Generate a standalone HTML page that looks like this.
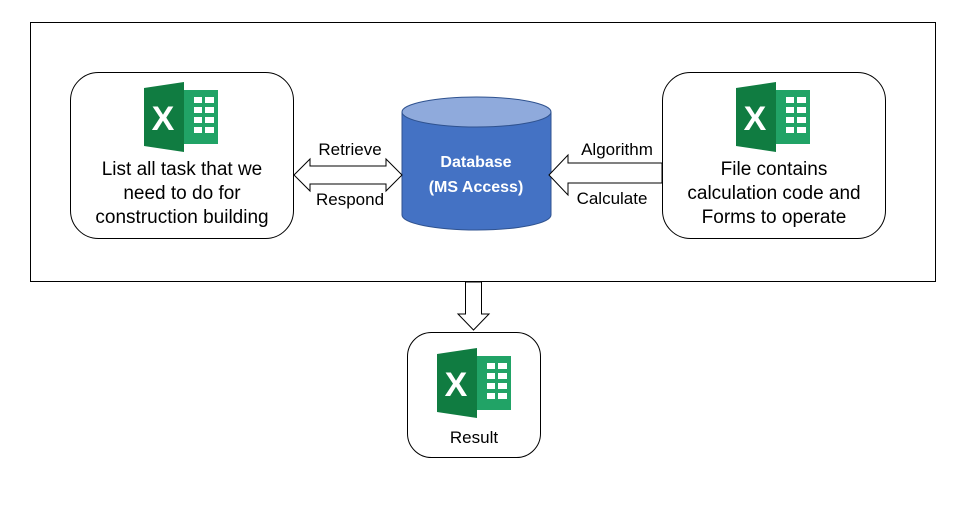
<!DOCTYPE html>
<html><head><style>body{margin:0;background:#fff}svg{display:block}text{font-family:"Liberation Sans",sans-serif}</style></head><body>
<svg width="976" height="522" viewBox="0 0 976 522" xmlns="http://www.w3.org/2000/svg">
<defs>
<g id="xl">
<rect x="34" y="8" width="40" height="54" fill="#21a366"/>
<g fill="#fff">
<rect x="50" y="15" width="8" height="6"/><rect x="61" y="15" width="9" height="6"/>
<rect x="50" y="25" width="8" height="6"/><rect x="61" y="25" width="9" height="6"/>
<rect x="50" y="35" width="8" height="6"/><rect x="61" y="35" width="9" height="6"/>
<rect x="50" y="45" width="8" height="6"/><rect x="61" y="45" width="9" height="6"/>
</g>
<polygon points="0,6 40,0 40,70 0,64" fill="#107c41"/>
<text x="19" y="48" font-size="34" font-weight="bold" fill="#fff" text-anchor="middle">X</text>
</g>
</defs>
<rect x="30.5" y="22.5" width="905" height="259" fill="none" stroke="#000"/>
<rect x="70.5" y="72.5" width="223" height="166" rx="28" fill="#fff" stroke="#000"/>
<rect x="662.5" y="72.5" width="223" height="166" rx="28" fill="#fff" stroke="#000"/>
<rect x="407.5" y="332.5" width="133" height="125" rx="24" fill="#fff" stroke="#000"/>
<use href="#xl" x="144" y="82"/>
<use href="#xl" x="736" y="82"/>
<use href="#xl" x="437" y="348"/>
<g font-size="19" fill="#000" text-anchor="middle">
<text x="182" y="175">List all task that we</text>
<text x="182" y="199">need to do for</text>
<text x="182" y="223">construction building</text>
<text x="774" y="175">File contains</text>
<text x="774" y="199">calculation code and</text>
<text x="774" y="223">Forms to operate</text>
</g>
<g font-size="17" fill="#000" text-anchor="middle">
<text x="474" y="443">Result</text>
<text x="350" y="155">Retrieve</text>
<text x="350" y="205">Respond</text>
<text x="617" y="155">Algorithm</text>
<text x="612" y="204">Calculate</text>
</g>
<path d="M402,112 V215 A74.5,15 0 0 0 551,215 V112" fill="#4472c4" stroke="#2f528f"/>
<ellipse cx="476.5" cy="112" rx="74.5" ry="15" fill="#8faadc" stroke="#2f528f"/>
<g font-size="16" font-weight="bold" fill="#fff" text-anchor="middle">
<text x="476" y="167">Database</text>
<text x="476" y="192">(MS Access)</text>
</g>
<polygon points="294,175 310,159 310,166 386,166 386,159 402,175 386,191 386,184 310,184 310,191" fill="#fff" stroke="#000"/>
<polygon points="549,175 568,155 568,163 662,163 662,183 568,183 568,195" fill="#fff" stroke="#000"/>
<polygon points="465.5,282 481.5,282 481.5,314 489,314 473.5,330 458,314 465.5,314" fill="#fff" stroke="#000"/>
</svg>
</body></html>
